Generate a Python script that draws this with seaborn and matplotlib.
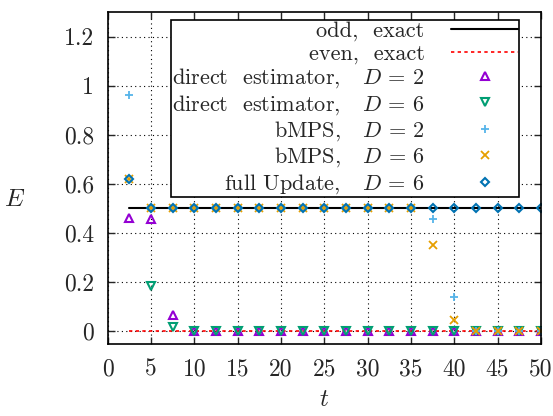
import numpy as np
import matplotlib
matplotlib.use("Agg")
import matplotlib.pyplot as plt
import seaborn as sns

t = [2.5, 5, 7.5, 10, 12.5, 15, 17.5, 20, 22.5, 25, 27.5, 30, 32.5, 35,
     37.5, 40, 42.5, 45, 47.5, 50]

odd_exact = [0.5] * 20
even_exact = [0.0] * 20

direct_d2 = [0.46, 0.455, 0.065, 0, 0, 0, 0, 0, 0, 0, 0, 0, 0, 0, 0, 0, 0, 0, 0, 0]
direct_d6 = [np.nan, 0.185, 0.015, 0, 0, 0, 0, 0, 0, 0, 0, 0, 0, 0, 0, 0, 0, 0, 0, 0]
bmps_d2 = [0.96, 0.5, 0.5, 0.5, 0.5, 0.5, 0.5, 0.5, 0.5, 0.5, 0.5, 0.5, 0.5, 0.5,
           0.455, 0.14, 0, 0, 0, 0]
bmps_d6 = [0.62, 0.5, 0.5, 0.5, 0.5, 0.5, 0.5, 0.5, 0.5, 0.5, 0.5, 0.5, 0.5, 0.5,
           0.35, 0.045, 0, 0, 0, 0]
full_d6 = [0.62, 0.5, 0.5, 0.5, 0.5, 0.5, 0.5, 0.5, 0.5, 0.5, 0.5, 0.5, 0.5, 0.5,
           0.5, 0.5, 0.5, 0.5, 0.5, 0.5]

sns.set_style("ticks")
plt.rcParams["font.family"] = ["cmr10", "DejaVu Serif"]
plt.rcParams["mathtext.fontset"] = "cm"
plt.rcParams["axes.formatter.use_mathtext"] = True

fig = plt.figure(figsize=(5.53, 4.16), dpi=100)
ax = fig.add_axes([0.195, 0.173, 0.783, 0.798])

sns.lineplot(x=t, y=odd_exact, ax=ax, color="black", lw=1.5,
             label="odd,  exact")
sns.lineplot(x=t, y=even_exact, ax=ax, color="#ff0000", lw=1.2,
             linestyle=(0, (2, 2)), label="even,  exact")

ms = 6
sns.lineplot(x=t, y=direct_d2, ax=ax, lw=0, marker="^", markersize=ms,
             markerfacecolor="none", markeredgecolor="#9400d3", mew=1.5,
             color="#9400d3", label="direct  estimator,   $D$ = 2")
sns.lineplot(x=t, y=direct_d6, ax=ax, lw=0, marker="v", markersize=ms,
             markerfacecolor="none", markeredgecolor="#009e73", mew=1.5,
             color="#009e73", label="direct  estimator,   $D$ = 6")
sns.lineplot(x=t, y=bmps_d2, ax=ax, lw=0, marker="+", markersize=ms,
             markeredgecolor="#56b4e9", mew=1.3,
             color="#56b4e9", label="bMPS,   $D$ = 2")
sns.lineplot(x=t, y=bmps_d6, ax=ax, lw=0, marker="x", markersize=ms,
             markeredgecolor="#e69f00", mew=1.3,
             color="#e69f00", label="bMPS,   $D$ = 6")
sns.lineplot(x=t, y=full_d6, ax=ax, lw=0, marker="D", markersize=4.5,
             markerfacecolor="none", markeredgecolor="#0072b2", mew=1.5,
             color="#0072b2", label="full Update,   $D$ = 6")

ax.set_xlim(0, 50)
ax.set_ylim(-0.053, 1.3)
ax.set_xticks(range(0, 51, 5))
ax.set_yticks([0, 0.2, 0.4, 0.6, 0.8, 1.0, 1.2])
ax.set_xticklabels([str(v) for v in range(0, 51, 5)])
ax.set_yticklabels(["0", "0.2", "0.4", "0.6", "0.8", "1", "1.2"])
ax.tick_params(direction="in", top=True, right=True, length=5, width=1,
               labelsize=17, pad=10)
ax.grid(True, color="black", linestyle=(0, (1, 3)), lw=0.8)
for s in ax.spines.values():
    s.set_linewidth(1.2)
    s.set_color("black")

ax.set_xlabel("$t$", fontsize=18, labelpad=6)
ax.set_ylabel("$E$", fontsize=18, rotation=0)
ax.yaxis.set_label_coords(-0.215, 0.40)

leg = ax.legend(loc="upper right", bbox_to_anchor=(0.95, 0.976),
                markerfirst=False, fontsize=16, frameon=True, fancybox=False,
                edgecolor="black", framealpha=1, handlelength=3.0,
                labelspacing=0.12, borderpad=0.05, handletextpad=1.2,
                borderaxespad=0)
leg.get_frame().set_linewidth(1.2)

fig.savefig("out.png", dpi=100)
